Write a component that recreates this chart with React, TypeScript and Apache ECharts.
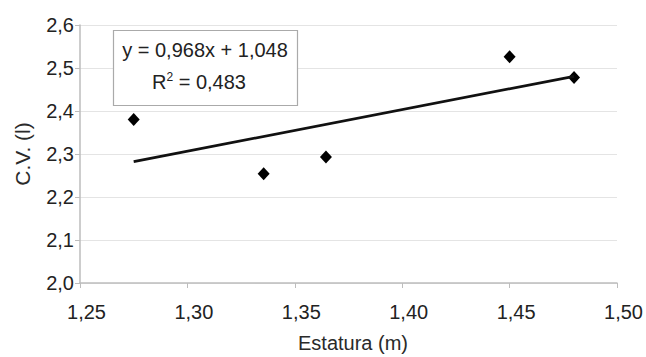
import React, { useEffect, useRef } from "react";
import * as echarts from "echarts";

const estatura = [1.275, 1.3355, 1.3645, 1.45, 1.48];
const cv = [2.38, 2.254, 2.293, 2.526, 2.478];
const slope = 0.968;
const intercept = 1.048;
const r2 = 0.483;
const xTicks = [1.25, 1.3, 1.35, 1.4, 1.45, 1.5];
const yTicks = [2.0, 2.1, 2.2, 2.3, 2.4, 2.5, 2.6];

const fmt = (v: number, d: number) => v.toFixed(d).replace(".", ",");

export default function App() {
  const ref = useRef<HTMLDivElement>(null);
  useEffect(() => {
    if (!ref.current) return;
    const chart = echarts.init(ref.current, undefined, { renderer: "svg" });
    const xMin = Math.min(...estatura);
    const xMax = Math.max(...estatura);
    const trend = [
      [xMin, slope * xMin + intercept],
      [xMax, slope * xMax + intercept],
    ];
    const font = "'Liberation Sans', Arial, sans-serif";
    chart.setOption({
      animation: false,
      backgroundColor: "#ffffff",
      grid: {
        left: 80,
        right: 29,
        top: 25,
        bottom: 74,
        containLabel: false,
        outerBoundsMode: "none",
      },
      xAxis: {
        type: "value",
        min: xTicks[0],
        max: xTicks[xTicks.length - 1],
        interval: 0.05,
        name: "Estatura (m)",
        nameLocation: "middle",
        nameGap: 50,
        nameTextStyle: { fontFamily: font, fontSize: 20, color: "#2a2a2a", padding: [0, 0, 0, 9] },
        axisLine: { show: true, lineStyle: { color: "#bdbdbd", width: 1.5 } },
        axisTick: { show: true, length: 5, lineStyle: { color: "#bdbdbd" } },
        axisLabel: {
          fontFamily: font,
          fontSize: 20,
          color: "#222",
          margin: 19,
          padding: [0, 0, 0, 13],
          formatter: (v: number) => fmt(v, 2),
        },
        splitLine: { show: false },
      },
      yAxis: {
        type: "value",
        min: yTicks[0],
        max: yTicks[yTicks.length - 1],
        interval: 0.1,
        name: "C.V. (l)",
        nameLocation: "middle",
        nameGap: 47,
        nameTextStyle: { fontFamily: font, fontSize: 21, color: "#2a2a2a" },
        axisLine: { show: true, lineStyle: { color: "#bdbdbd", width: 1.5 } },
        axisTick: { show: true, length: 5, lineStyle: { color: "#bdbdbd" } },
        axisLabel: {
          fontFamily: font,
          fontSize: 20,
          color: "#222",
          margin: 6,
          padding: [0, 0, 5, 0],
          formatter: (v: number) => fmt(v, 1),
        },
        splitLine: { show: true, lineStyle: { color: "#e4e4e4", width: 1 } },
      },
      series: [
        {
          type: "line",
          data: trend,
          showSymbol: false,
          symbol: "none",
          lineStyle: { color: "#111", width: 2.7 },
          silent: true,
        },
        {
          type: "scatter",
          data: estatura.map((x, i) => [x, cv[i]]),
          symbol: "diamond",
          symbolSize: [12, 13],
          itemStyle: { color: "#000", opacity: 1 },
        },
      ],
      graphic: [
        {
          type: "rect",
          shape: { x: 113.5, y: 30.5, width: 184, height: 75 },
          style: { fill: "#fff", stroke: "#aaaaaa", lineWidth: 1.2 },
          z: 10,
        },
        {
          type: "text",
          x: 205,
          y: 50,
          z: 11,
          style: {
            text: `y = ${fmt(slope, 3)}x + ${fmt(intercept, 3)}`,
            fontFamily: font,
            fontSize: 20,
            fill: "#222",
            align: "center",
            verticalAlign: "middle",
          },
        },
        {
          type: "text",
          x: 199,
          y: 81,
          z: 11,
          style: {
            text: `{b|R}{s|2}{b| = ${fmt(r2, 3)}}`,
            fontFamily: font,
            fill: "#222",
            align: "center",
            verticalAlign: "middle",
            rich: {
              b: { fontFamily: font, fontSize: 20, fill: "#222", verticalAlign: "bottom" },
              s: { fontFamily: font, fontSize: 12, fill: "#222", verticalAlign: "top", padding: [0, 0, 9, 0] },
            },
          },
        },
      ],
    });
    return () => chart.dispose();
  }, []);
  return (
    <div
      ref={ref}
      style={{ position: "fixed", left: 0, top: 0, width: 646, height: 357 }}
    />
  );
}
